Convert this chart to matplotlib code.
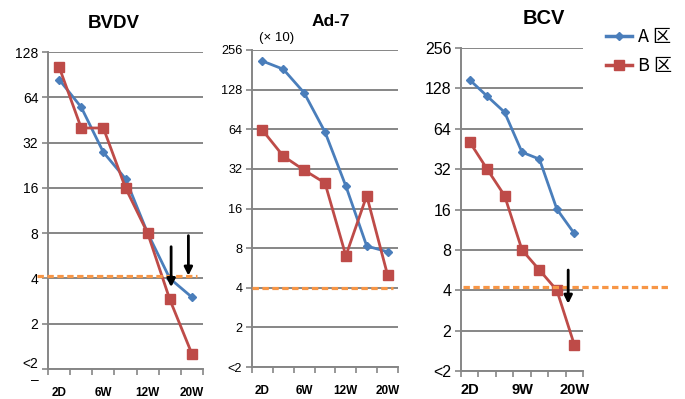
import matplotlib.pyplot as plt
from matplotlib.lines import Line2D
import numpy as np

plt.rcParams['font.family'] = ['Liberation Sans', 'Noto Sans CJK SC', 'DejaVu Sans']

W, H = 685, 399
weeks = ['2D', '3W', '6W', '9W', '12W', '16W', '20W']

bvdv_a = [84, 55, 27.6, 18.4, 8, 4.0, 3.0]
bvdv_b = [102, 40, 40, 16, 8, 2.9, 1.26]
ad7_a = [211, 183, 121, 61, 23.7, 8.3, 7.5]
ad7_b = [63, 40, 31.3, 25, 7.0, 20, 5.0]
bcv_a = [148, 112, 85, 42.8, 38, 16.1, 10.6]
bcv_b = [51, 32, 20.3, 8, 5.66, 4, 1.57]

blue = '#4A7EBB'
red = '#BE4B48'
orange = '#F79646'
grey = '#868686'

fig = plt.figure(figsize=(W / 100, H / 100), dpi=100)


def px_axes(l, r, t, b):
    return fig.add_axes([l / W, 1 - b / H, (r - l) / W, (b - t) / H])


def setup(ax, title, ymax, xmax, show_idx, title_x, title_y, ysize, xsize, xpad,
          tsize, low_label='<2'):
    ax.set_yscale('log', base=2)
    ticks = [2 ** k for k in range(int(np.log2(ymax)) + 1)]
    labels = [low_label] + [str(t) for t in ticks[1:]]
    ax.set_yticks(ticks)
    ax.set_yticklabels(labels, fontsize=ysize)
    ax.minorticks_off()
    ax.set_ylim(1, ymax)
    ax.set_xlim(-0.5, xmax)
    ax.set_xticks(range(len(weeks)))
    ax.set_xticklabels([w if i in show_idx else '' for i, w in enumerate(weeks)],
                       fontsize=xsize, fontweight='bold')
    ax.tick_params(axis='x', which='major', length=0, pad=xpad)
    ax.set_xticks(np.arange(-0.5, len(weeks), 1), minor=True)
    ax.tick_params(axis='x', which='minor', length=4, width=1.2, color=grey, direction='out')
    ax.tick_params(axis='y', length=4, width=1.2, color=grey, direction='out', pad=3)
    ax.grid(axis='y', color=grey, lw=1.4)
    ax.set_axisbelow(True)
    for s in ['top', 'right']:
        ax.spines[s].set_visible(False)
    for s in ['left', 'bottom']:
        ax.spines[s].set_color(grey)
        ax.spines[s].set_linewidth(1.4)
    fig.text(title_x / W, 1 - title_y / H, title, ha='center', va='center',
             fontsize=tsize, fontweight='bold')


def draw(ax, a, b):
    x = np.arange(len(weeks))
    ax.plot(x, a, color=blue, lw=2, marker='D', ms=4.5, clip_on=False, zorder=3)
    ax.plot(x, b, color=red, lw=2, marker='s', ms=6.5, clip_on=False, zorder=4)


def limit(ax, x0, x1, y):
    ax.plot([x0, x1], [y, y], color=orange, lw=2.3, ls=(0, (2.0, 1.1)),
            clip_on=False, zorder=5)


def arrow(ax, x, y0, y1):
    ax.annotate('', xy=(x, y1), xytext=(x, y0), annotation_clip=False,
                arrowprops=dict(arrowstyle='-|>', color='black', lw=2,
                                mutation_scale=12, shrinkA=0, shrinkB=0), zorder=6)


# BVDV
ax1 = px_axes(48, 203, 52, 369)
setup(ax1, 'BVDV', 128, 6.14, [0, 2, 4, 6], 114, 23, 10, 8.5, 13, 13.5,
      low_label='<2\n\u2013')
draw(ax1, bvdv_a, bvdv_b)
limit(ax1, -0.99, 6.22, 4.16)
arrow(ax1, 5.06, 6.5, 3.5)
arrow(ax1, 5.84, 7.7, 4.17)

# Ad-7
ax2 = px_axes(252, 398, 50, 367)
setup(ax2, 'Ad-7', 256, 6.24, [0, 2, 4, 6], 331, 21, 9.2, 8.5, 13, 12.5)
draw(ax2, ad7_a, ad7_b)
limit(ax2, -0.5, 6.24, 4.0)
fig.text(259 / W, 1 - 38 / H, '(\u00d7 10)', fontsize=9.5, va='center')

# BCV
ax3 = px_axes(461, 583, 48, 371)
setup(ax3, 'BCV', 256, 6.44, [0, 3, 6], 544, 19, 11.5, 10.5, 9, 14.5)
draw(ax3, bcv_a, bcv_b)
limit(ax3, -0.4, 11.4, 4.2)
arrow(ax3, 5.65, 5.66, 3.17)

handles = [Line2D([], [], color=blue, lw=2.5, marker='D', ms=4.5),
           Line2D([], [], color=red, lw=2.5, marker='s', ms=6.5)]
fig.legend(handles, ['A 区', 'B 区'], loc='upper left', bbox_to_anchor=(606 / W, 1 - 28 / H),
           frameon=False, handlelength=1.45, labelspacing=0.6, handletextpad=0.35,
           borderpad=0, borderaxespad=0,
           prop={'family': ['Noto Sans CJK SC'], 'size': 13})

fig.savefig('out.png', dpi=100)
